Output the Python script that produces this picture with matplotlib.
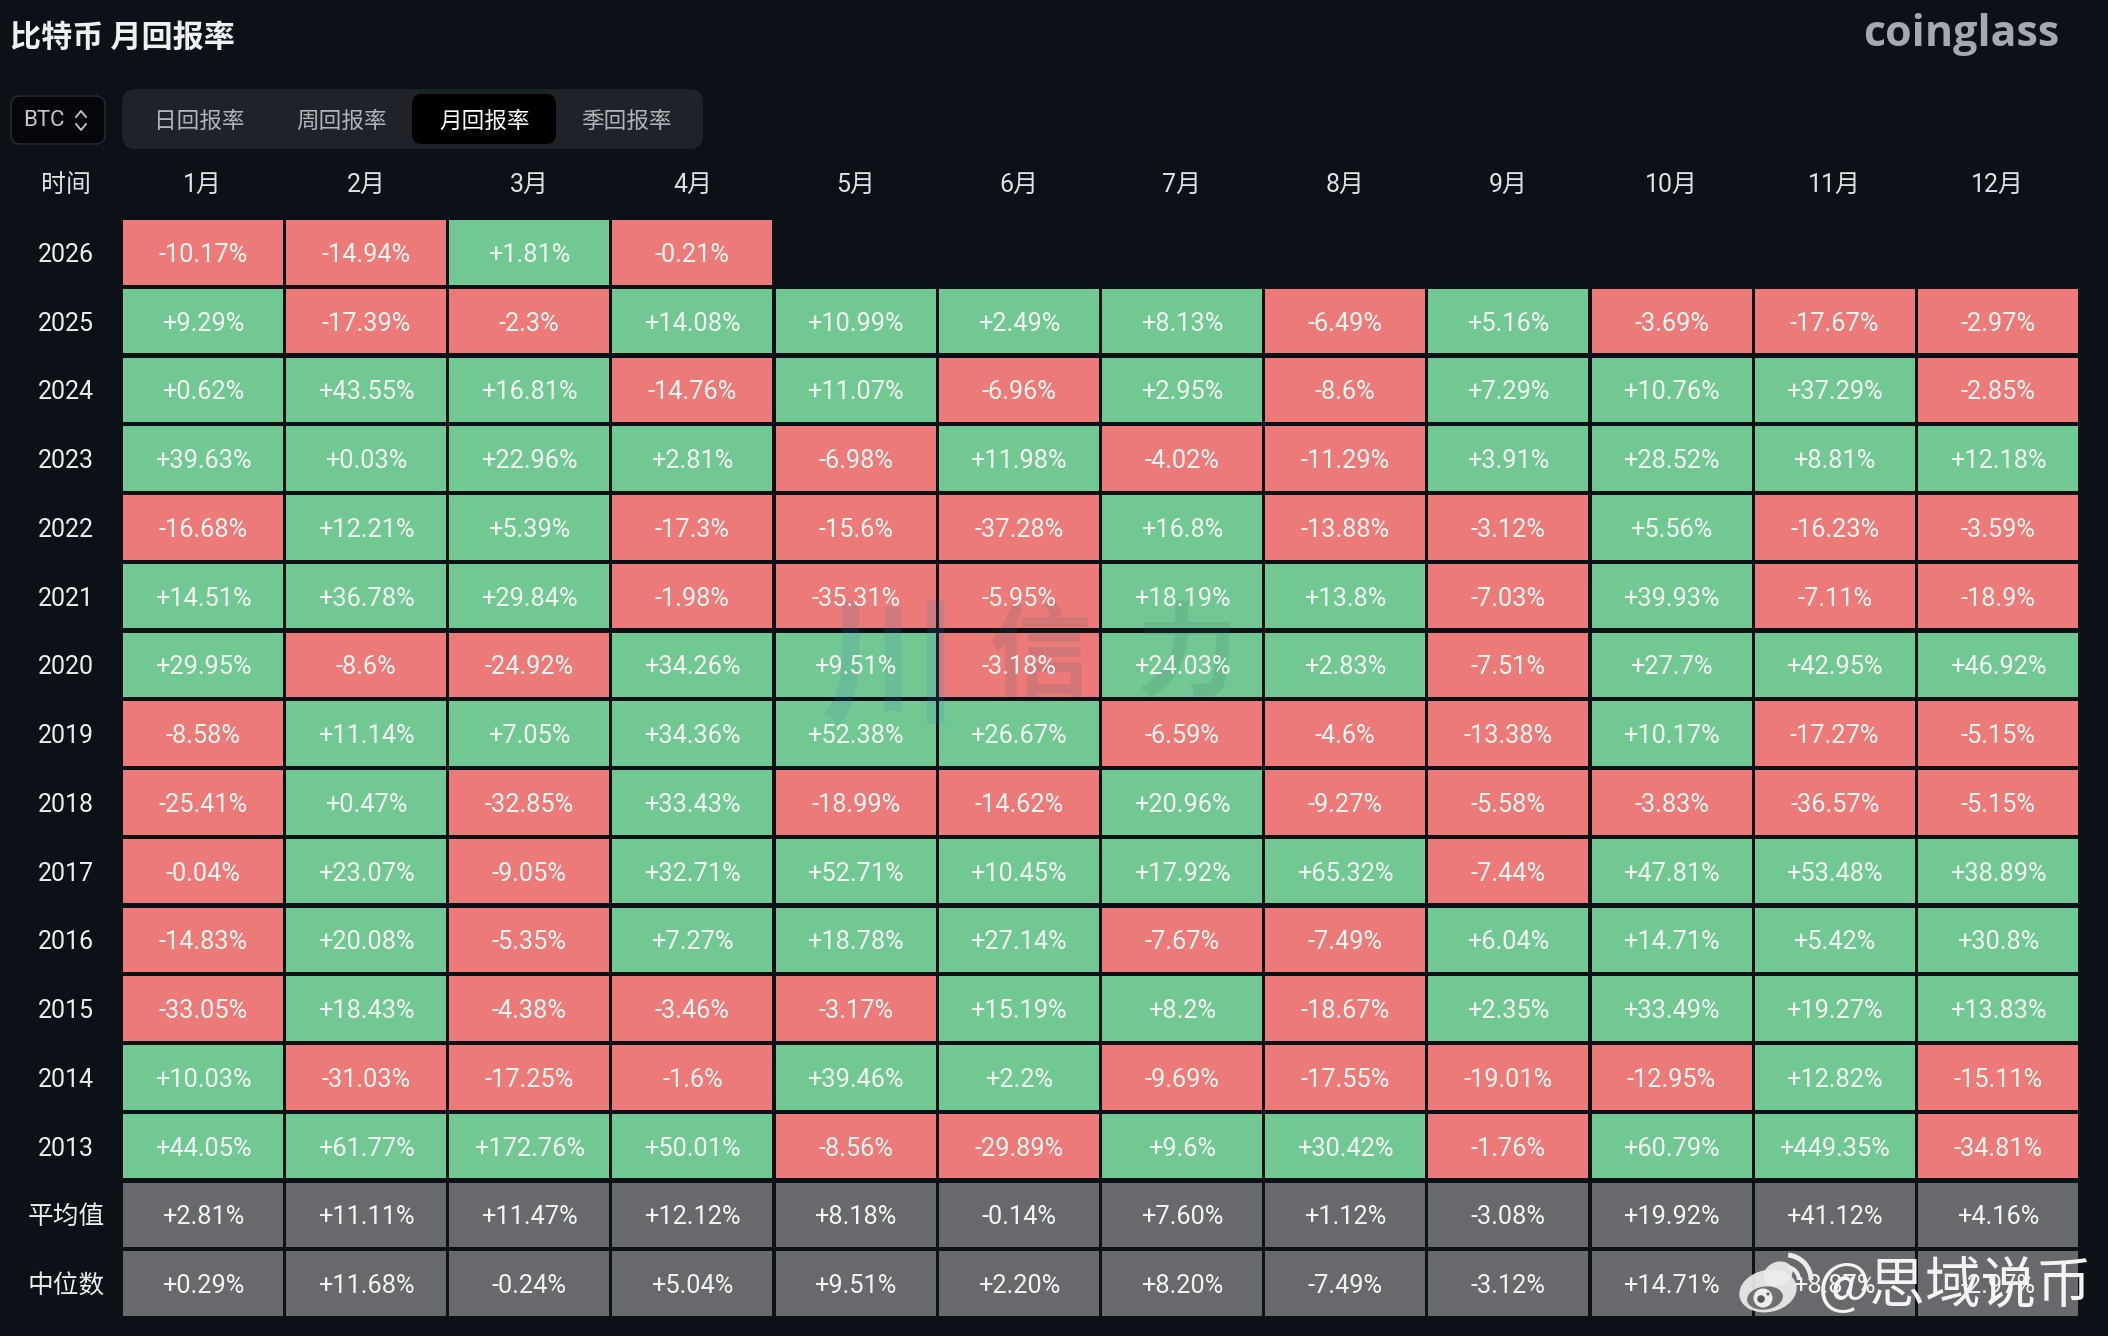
import matplotlib
matplotlib.use("Agg")
from matplotlib import pyplot as plt
from matplotlib.patches import Arc, Circle, Ellipse, FancyBboxPatch, Rectangle

W, H = 2108, 1336
BG = "#0c1017"
GREEN = "#72c893"
RED = "#ec7a78"
GREY = "#67696d"
FONT = ["Roboto", "Noto Sans CJK SC", "DejaVu Sans"]
CJK = ["Noto Sans CJK SC", "DejaVu Sans"]

months = ["1月", "2月", "3月", "4月", "5月", "6月", "7月", "8月", "9月", "10月", "11月", "12月"]
years = ["2026", "2025", "2024", "2023", "2022", "2021", "2020", "2019", "2018", "2017", "2016", "2015", "2014", "2013"]
tabs = ["日回报率", "周回报率", "月回报率", "季回报率"]
stat_labels = ["平均值", "中位数"]

r2026 = [-10.17, -14.94, 1.81, -0.21]
r2025 = [9.29, -17.39, -2.3, 14.08, 10.99, 2.49, 8.13, -6.49, 5.16, -3.69, -17.67, -2.97]
r2024 = [0.62, 43.55, 16.81, -14.76, 11.07, -6.96, 2.95, -8.6, 7.29, 10.76, 37.29, -2.85]
r2023 = [39.63, 0.03, 22.96, 2.81, -6.98, 11.98, -4.02, -11.29, 3.91, 28.52, 8.81, 12.18]
r2022 = [-16.68, 12.21, 5.39, -17.3, -15.6, -37.28, 16.8, -13.88, -3.12, 5.56, -16.23, -3.59]
r2021 = [14.51, 36.78, 29.84, -1.98, -35.31, -5.95, 18.19, 13.8, -7.03, 39.93, -7.11, -18.9]
r2020 = [29.95, -8.6, -24.92, 34.26, 9.51, -3.18, 24.03, 2.83, -7.51, 27.7, 42.95, 46.92]
r2019 = [-8.58, 11.14, 7.05, 34.36, 52.38, 26.67, -6.59, -4.6, -13.38, 10.17, -17.27, -5.15]
r2018 = [-25.41, 0.47, -32.85, 33.43, -18.99, -14.62, 20.96, -9.27, -5.58, -3.83, -36.57, -5.15]
r2017 = [-0.04, 23.07, -9.05, 32.71, 52.71, 10.45, 17.92, 65.32, -7.44, 47.81, 53.48, 38.89]
r2016 = [-14.83, 20.08, -5.35, 7.27, 18.78, 27.14, -7.67, -7.49, 6.04, 14.71, 5.42, 30.8]
r2015 = [-33.05, 18.43, -4.38, -3.46, -3.17, 15.19, 8.2, -18.67, 2.35, 33.49, 19.27, 13.83]
r2014 = [10.03, -31.03, -17.25, -1.6, 39.46, 2.2, -9.69, -17.55, -19.01, -12.95, 12.82, -15.11]
r2013 = [44.05, 61.77, 172.76, 50.01, -8.56, -29.89, 9.6, 30.42, -1.76, 60.79, 449.35, -34.81]
mean_row = [2.81, 11.11, 11.47, 12.12, 8.18, -0.14, 7.60, 1.12, -3.08, 19.92, 41.12, 4.16]
median_row = [0.29, 11.68, -0.24, 5.04, 9.51, 2.20, 8.20, -7.49, -3.12, 14.71, 8.87, -2.97]

year_rows = [r2026, r2025, r2024, r2023, r2022, r2021, r2020, r2019, r2018, r2017, r2016, r2015, r2014, r2013]
stat_rows = [mean_row, median_row]

fig = plt.figure(figsize=(W / 100, H / 100), dpi=100, facecolor=BG)

# heatmap grid, one unit per cell
GRID_L, GRID_T, GRID_R, GRID_B = 121.3, 218, 2079.5, 1318
ax = fig.add_axes([GRID_L / W, 1 - GRID_B / H, (GRID_R - GRID_L) / W, (GRID_B - GRID_T) / H])
ax.set_xlim(0, 12)
ax.set_ylim(16, 0)
ax.axis("off")


def draw_cell(col, row, color, label):
    gap_x, gap_y = 0.019, 0.062
    ax.add_patch(Rectangle((col + gap_x / 2, row + gap_y / 2), 1 - gap_x, 1 - gap_y,
                           facecolor=color, edgecolor="none"))
    ax.text(col + 0.5, row + 0.5, label, ha="center", va="center_baseline", color="#f2f6f3",
            fontsize=18.3, family=FONT)


for row, values in enumerate(year_rows):
    for col, v in enumerate(values):
        draw_cell(col, row, GREEN if v >= 0 else RED, f"{v:+g}%")
for row, values in enumerate(stat_rows):
    for col, v in enumerate(values):
        draw_cell(col, row + len(year_rows), GREY, f"{v:+.2f}%")

# page furniture in pixel coordinates
ui = fig.add_axes([0, 0, 1, 1], facecolor="none")
ui.set_xlim(0, W)
ui.set_ylim(H, 0)
ui.axis("off")


def rounded(x0, y0, x1, y1, radius, face, edge="none"):
    ui.add_patch(FancyBboxPatch((x0 + radius, y0 + radius), x1 - x0 - 2 * radius, y1 - y0 - 2 * radius,
                                boxstyle=f"round,pad={radius},rounding_size={radius}",
                                facecolor=face, edgecolor=edge, linewidth=1))


ui.text(10, 38, "比特币 月回报率", ha="left", va="center", color="#eef0f2", fontsize=22.4,
        fontweight="bold", family=CJK)
ui.text(1961, 34, "coinglass", ha="center", va="center", color="#a5a9af", fontsize=31,
        fontweight="bold", family=["Open Sans", "DejaVu Sans"])

rounded(11, 96, 105, 144, 9, "#05070b", "#2a2f36")
ui.text(23, 121, "BTC", ha="left", va="center", color="#c4c7cb", fontsize=16, family=FONT)
ui.plot([76, 81, 86], [117, 111, 117], color="#c4c7cb", lw=1.3)
ui.plot([76, 81, 86], [124, 130, 124], color="#c4c7cb", lw=1.3)

rounded(122, 89, 703, 149, 14, "#1f2329")
rounded(412, 94, 556, 144, 10, "#000000")
for cx, tab in zip([199, 341, 485, 626], tabs):
    ui.text(cx, 121, tab, ha="center", va="center", fontsize=16.3,
            color="#ffffff" if tab == "月回报率" else "#b0b3b8", family=CJK)

ui.text(66, 185, "时间", ha="center", va="center", color="#dfe1e4", fontsize=18, family=CJK)
pitch_x = (GRID_R - GRID_L) / 12
pitch_y = (GRID_B - GRID_T) / 16
for i, m in enumerate(months):
    ui.text(GRID_L + pitch_x * (i + 0.5), 185, m, ha="center", va="center", color="#dfe1e4",
            fontsize=18, family=FONT)
for i, label in enumerate(years + stat_labels):
    ui.text(66, GRID_T + pitch_y * (i + 0.5), label, ha="center", va="center_baseline", color="#eceef0",
            fontsize=18 if i < len(years) else 18.5, family=FONT)

# faint site watermark, sits under the cell labels
for cx, cy, ch, col, size in [(890, 672, "川", "#2f7fb5", 100), (1040, 658, "信", "#3a5a70", 74),
                              (1187, 658, "力", "#2f6a70", 74)]:
    ax.text(cx, cy, ch, ha="center", va="center", color=col, alpha=0.15, fontsize=size, zorder=2,
            fontweight="bold", family=CJK, transform=ui.transData)

# weibo stamp, bottom right
STAMP = "#ececec"
ui.add_patch(Ellipse((1768, 1291), 58, 42, angle=-12, facecolor=STAMP, alpha=0.92, edgecolor="none"))
ui.add_patch(Ellipse((1778, 1274), 30, 24, angle=-25, facecolor=STAMP, alpha=0.92, edgecolor="none"))
ui.add_patch(Ellipse((1765, 1298), 36, 23, angle=-8, facecolor="#6e7074", edgecolor="none"))
ui.add_patch(Circle((1763, 1298), 9.5, facecolor=STAMP, edgecolor="none"))
ui.add_patch(Circle((1761, 1299), 3.8, facecolor="#55575b", edgecolor="none"))
ui.add_patch(Circle((1768, 1294), 1.5, facecolor="#55575b", edgecolor="none"))
ui.add_patch(Arc((1786, 1280), 26, 26, theta1=280, theta2=360, color=STAMP, lw=3))
ui.add_patch(Arc((1786, 1280), 50, 50, theta1=275, theta2=360, color=STAMP, lw=3.5))
ui.text(1818, 1287, "@思域说币", ha="left", va="center", color="#f4f4f4", fontsize=40, family=CJK)

fig.savefig("out.png", dpi=100, facecolor=BG)
plt.close(fig)
